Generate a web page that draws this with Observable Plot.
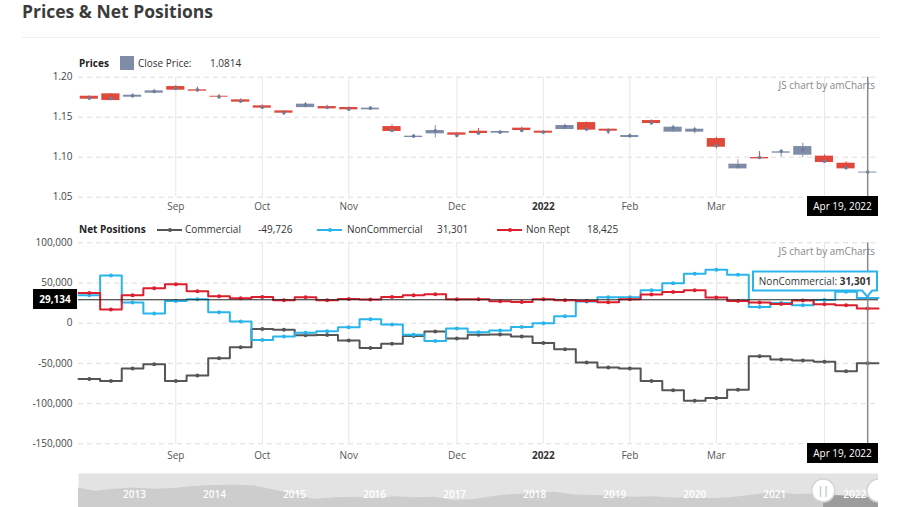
<!DOCTYPE html>
<html><head><meta charset="utf-8">
<script src="https://cdn.jsdelivr.net/npm/d3@7"></script>
<script src="https://cdn.jsdelivr.net/npm/@observablehq/plot@0.6"></script>
<style>
body{margin:0;background:#fff;font-family:"Open Sans",sans-serif;}
#root{position:relative;width:900px;height:507px;overflow:hidden;background:#fff;}
.abs{position:absolute;white-space:nowrap;line-height:1;}
svg{display:block;}
</style></head><body><div id="root"></div>
<script>
// ---------- data ----------
const dates = ["2021-08-10","2021-08-17","2021-08-24","2021-08-31","2021-09-07","2021-09-14","2021-09-21","2021-09-28",
  "2021-10-05","2021-10-12","2021-10-19","2021-10-26","2021-11-02","2021-11-09","2021-11-16","2021-11-23","2021-11-30",
  "2021-12-07","2021-12-14","2021-12-21","2021-12-28","2022-01-04","2022-01-11","2022-01-18","2022-01-25",
  "2022-02-01","2022-02-08","2022-02-15","2022-02-22","2022-03-01","2022-03-08","2022-03-15","2022-03-22","2022-03-29",
  "2022-04-05","2022-04-12","2022-04-19"];
const openP  = [1.1762,1.1792,1.1750,1.1800,1.1883,1.1842,1.1762,1.1717,1.1642,1.1579,1.1620,1.1633,1.1621,1.1592,1.1383,1.1246,1.1292,
  1.1304,1.1325,1.1300,1.1363,1.1325,1.1346,1.1433,1.1350,1.1246,1.1458,1.1313,1.1313,1.1233,1.0854,1.0996,1.1050,1.1025,1.1013,1.0925,1.0802];
const closeP = [1.1725,1.1708,1.1775,1.1829,1.1838,1.1825,1.1750,1.1688,1.1613,1.1550,1.1663,1.1604,1.1592,1.1613,1.1321,1.1263,1.1333,
  1.1275,1.1296,1.1321,1.1333,1.1300,1.1396,1.1338,1.1325,1.1271,1.1421,1.1375,1.1350,1.1125,1.0913,1.0979,1.1067,1.1133,1.0933,1.0854,1.0814];
const highP  = [1.1768,1.1795,1.1792,1.1850,1.1896,1.1875,1.1783,1.1729,1.1654,1.1583,1.1683,1.1650,1.1630,1.1633,1.1404,1.1283,1.1396,
  1.1308,1.1358,1.1327,1.1375,1.1330,1.1413,1.1442,1.1355,1.1292,1.1465,1.1400,1.1375,1.1250,1.0967,1.1071,1.1092,1.1175,1.1029,1.0942,1.0840];
const lowP   = [1.1720,1.1705,1.1742,1.1797,1.1835,1.1808,1.1729,1.1679,1.1604,1.1538,1.1615,1.1600,1.1585,1.1588,1.1315,1.1240,1.1242,
  1.1254,1.1283,1.1295,1.1313,1.1290,1.1342,1.1330,1.1283,1.1240,1.1415,1.1308,1.1292,1.1104,1.0850,1.0979,1.1000,1.1000,1.0925,1.0850,1.0792];
const dotP   = [1.1738,1.1733,1.1767,1.1821,1.1858,1.1842,1.1754,1.1700,1.1625,1.1554,1.1654,1.1621,1.1600,1.1613,1.1333,1.1263,1.1329,
  1.1271,1.1300,1.1313,1.1333,1.1313,1.1383,1.1350,1.1329,1.1267,1.1429,1.1367,1.1342,1.1146,1.0888,1.0996,1.1075,1.1092,1.0950,1.0867,1.0814];
const commercial = [-69300,-71800,-56400,-51000,-71800,-65100,-43500,-29900,-7100,-8300,-15000,-14800,-21600,-30700,-25500,-15800,-10200,
  -19100,-14500,-14100,-16600,-24500,-32300,-49000,-55200,-56400,-71800,-83500,-96300,-93000,-82700,-41000,-45300,-46500,-48100,-59700,-49726];
const nonCommercial = [34800,59200,25600,12000,27700,29800,13700,2000,-21000,-16600,-12000,-10000,-5000,5000,-1700,-14500,-22000,
  -6700,-11200,-9200,-4600,0,8700,26900,32300,32300,41000,49700,61500,66500,60300,20000,25200,22200,29000,39200,31301];
const nonReportable = [37600,16900,34800,43500,48500,39800,33600,31100,32700,28600,32300,28600,30200,29400,32700,34800,36000,
  29800,29800,27400,26500,29800,28600,27700,26100,29800,35600,38700,41000,32000,27500,25600,24000,28300,23600,22200,18425];
const priceTicks = [1.05,1.10,1.15,1.20];
const netTicks = [-150000,-100000,-50000,0,50000,100000];
const cursorValue = 29134;
const historyT = [2012.3,2012.5,2012.75,2013.0,2013.25,2013.5,2013.75,2014.0,2014.25,2014.5,2014.75,2015.0,2015.25,2015.5,2015.75,
  2016.0,2016.25,2016.5,2016.75,2017.0,2017.25,2017.5,2017.75,2018.0,2018.25,2018.5,2018.75,2019.0,2019.25,2019.5,2019.75,
  2020.0,2020.25,2020.5,2020.75,2021.0,2021.25,2021.5,2021.61,2021.75,2022.0,2022.15,2022.296];
const historyV = [1.32,1.25,1.29,1.32,1.29,1.31,1.35,1.37,1.38,1.36,1.27,1.18,1.07,1.11,1.12,
  1.09,1.13,1.11,1.12,1.05,1.07,1.14,1.18,1.20,1.23,1.17,1.16,1.14,1.12,1.13,1.10,
  1.12,1.09,1.12,1.17,1.22,1.18,1.19,1.175,1.16,1.13,1.12,1.08];
const yearTicks = [2013,2014,2015,2016,2017,2018,2019,2020,2021,2022];

// ---------- layout / style ----------
const W = 900, L = 78, R = 22;
const RED = "#e0483b", BLUE = "#7f8ca8", C_COM = "#555555", C_NC = "#29b5ec", C_NR = "#dc1f2e";
const FONT = '"Open Sans", sans-serif';
const root = d3.select("#root");
const monthNames = ["Jan","Feb","Mar","Apr","May","Jun","Jul","Aug","Sep","Oct","Nov","Dec"];
const parsed = dates.map(d => new Date(d + "T00:00:00Z"));
const monthIdx = parsed.map((d,i) => (i > 0 && d.getUTCMonth() !== parsed[i-1].getUTCMonth()) ? i : -1).filter(i => i >= 0);
const tickLabel = i => parsed[i].getUTCMonth() === 0 ? String(parsed[i].getUTCFullYear()) : monthNames[parsed[i].getUTCMonth()];
const xDomain = [-0.5, dates.length - 0.5];
const last = dates.length - 1;
const boxW = 71, boxLeft = W - R - boxW;
// month labels that would sit under the cursor date box are hidden, as in the reference
const pxOf = i => L + (i - xDomain[0]) * (W - L - R) / (xDomain[1] - xDomain[0]);
const labelIdx = monthIdx.filter(i => pxOf(i) + 12 < boxLeft);
const yearIdx = labelIdx.filter(i => parsed[i].getUTCMonth() === 0);
const monIdx = labelIdx.filter(i => parsed[i].getUTCMonth() !== 0);
const fmt = v => Math.round(v).toLocaleString("en-US");
const baseStyle = {fontFamily: FONT, fontSize: "10px", color: "#444", background: "transparent", overflow: "visible"};

// ---------- title ----------
root.append("div").attr("class","abs")
  .style("left","22px").style("top","3px").style("font-size","17.5px").style("font-weight","700").style("color","#3c3c3c")
  .text("Prices & Net Positions");
root.append("div").attr("class","abs")
  .style("left","22px").style("top","37px").style("width","858px").style("height","1px").style("background","#eeeeee");

// ---------- price panel ----------
const priceTop = 60, priceH = 160, pMT = 16.7, pMB = 23.3;
const candles = dates.map((d,i) => ({i, open: openP[i], close: closeP[i], high: highP[i], low: lowP[i], mid: dotP[i],
  color: closeP[i] >= openP[i] ? BLUE : RED}));
const pricePlot = Plot.plot({
  width: W, height: priceH, marginLeft: L, marginRight: R, marginTop: pMT, marginBottom: pMB,
  style: baseStyle,
  x: {domain: xDomain}, y: {domain: [1.05, 1.20]},
  marks: [
    Plot.ruleY(priceTicks, {stroke: "#dddddd", strokeDasharray: "5,4"}),
    Plot.ruleX(monthIdx, {stroke: "#e6e6e6"}),
    Plot.axisY(priceTicks, {tickSize: 0, tickPadding: 6, tickFormat: d => d.toFixed(2), label: null, fill: "#444"}),
    Plot.axisX(monIdx, {tickSize: 0, tickPadding: 6, tickFormat: tickLabel, label: null, fill: "#555"}),
    Plot.axisX(yearIdx, {tickSize: 0, tickPadding: 6, tickFormat: tickLabel, label: null, fontWeight: "bold", fill: "#333"}),
    Plot.ruleX(candles, {x: "i", y1: "low", y2: "high", stroke: "color", strokeWidth: 1}),
    Plot.rect(candles, {x1: d => d.i - 0.42, x2: d => d.i + 0.42, y1: "open", y2: "close", fill: "color"}),
    Plot.dot(candles, {x: "i", y: "mid", r: 1.8, fill: "#6d7d9c"}),
    Plot.ruleX([last], {stroke: "#8a8a8a", strokeWidth: 1.5})
  ]
});
root.append("div").attr("class","abs").style("left","0px").style("top", priceTop + "px").node().appendChild(pricePlot);

// price legend
root.append("div").attr("class","abs").style("left","79px").style("top","58px").style("font-size","10px").style("font-weight","700").style("color","#222").text("Prices");
root.append("div").attr("class","abs").style("left","120px").style("top","56px").style("width","14px").style("height","14px").style("background",BLUE);
root.append("div").attr("class","abs").style("left","138px").style("top","58px").style("font-size","10px").style("color","#333").text("Close Price:");
root.append("div").attr("class","abs").style("left","210px").style("top","58px").style("font-size","10px").style("color","#333").text(closeP[last].toFixed(4));

// ---------- net positions panel ----------
const netTop = 236, netH = 230, nMT = 6.3, nMB = 22.7;
const steps = vals => vals.flatMap((v,i) => [{x: i - 0.5, y: v}, {x: i + 0.5, y: v}]);
const pts = vals => vals.map((v,i) => ({i, v}));
const netPlot = Plot.plot({
  width: W, height: netH, marginLeft: L, marginRight: R, marginTop: nMT, marginBottom: nMB,
  style: baseStyle,
  x: {domain: xDomain}, y: {domain: [-150000, 100000]},
  marks: [
    Plot.ruleY(netTicks, {stroke: "#dddddd", strokeDasharray: "5,4"}),
    Plot.ruleX(monthIdx, {stroke: "#e6e6e6"}),
    Plot.axisY(netTicks, {tickSize: 0, tickPadding: 6, tickFormat: fmt, label: null, fill: "#444"}),
    Plot.axisX(monIdx, {tickSize: 0, tickPadding: 8, tickFormat: tickLabel, label: null, fill: "#555"}),
    Plot.axisX(yearIdx, {tickSize: 0, tickPadding: 8, tickFormat: tickLabel, label: null, fontWeight: "bold", fill: "#333"}),
    Plot.line(steps(commercial), {x: "x", y: "y", stroke: C_COM, strokeWidth: 2}),
    Plot.dot(pts(commercial), {x: "i", y: "v", r: 2, fill: C_COM}),
    Plot.line(steps(nonCommercial), {x: "x", y: "y", stroke: C_NC, strokeWidth: 2}),
    Plot.dot(pts(nonCommercial), {x: "i", y: "v", r: 2, fill: C_NC}),
    Plot.line(steps(nonReportable), {x: "x", y: "y", stroke: C_NR, strokeWidth: 2}),
    Plot.dot(pts(nonReportable), {x: "i", y: "v", r: 2, fill: C_NR}),
    Plot.ruleY([cursorValue], {stroke: "#222", strokeWidth: 1}),
    Plot.ruleX([last], {stroke: "#8a8a8a", strokeWidth: 1.5})
  ]
});
root.append("div").attr("class","abs").style("left","0px").style("top", netTop + "px").node().appendChild(netPlot);

// net legend
const legY = 224;
root.append("div").attr("class","abs").style("left","79px").style("top", legY + "px").style("font-size","10px").style("font-weight","700").style("color","#222").text("Net Positions");
const legendItems = [
  {name: "Commercial", color: C_COM, value: commercial[last], x0: 157, tx: 185, vx: 258},
  {name: "NonCommercial", color: C_NC, value: nonCommercial[last], x0: 317, tx: 347, vx: 437},
  {name: "Non Rept", color: C_NR, value: nonReportable[last], x0: 497, tx: 526, vx: 587}
];
legendItems.forEach(it => {
  root.append("div").attr("class","abs").style("left", it.x0 + "px").style("top", (legY + 5) + "px")
    .style("width","25px").style("height","2px").style("background", it.color);
  root.append("div").attr("class","abs").style("left", (it.x0 + 10.5) + "px").style("top", (legY + 4) + "px")
    .style("width","4px").style("height","4px").style("border-radius","2px").style("background", it.color);
  root.append("div").attr("class","abs").style("left", it.tx + "px").style("top", legY + "px").style("font-size","10px").style("color","#333").text(it.name);
  root.append("div").attr("class","abs").style("left", it.vx + "px").style("top", legY + "px").style("font-size","10px").style("color","#333").text(fmt(it.value));
});

// watermark texts
[[80], [246]].forEach(([t]) => {
  root.append("div").attr("class","abs").style("right","25px").style("top", t + "px").style("font-size","10px").style("color","#888").text("JS chart by amCharts");
});

// ---------- cursor overlays ----------
const xs = netPlot.scale("x"), ysN = netPlot.scale("y");
const xLast = xs.apply(last);
const dateLabel = d3.utcFormat("%b %-d, %Y")(parsed[last]);
[[priceTop + priceH - pMB - 1], [netTop + netH - nMB]].forEach(([t]) => {
  root.append("div").attr("class","abs").style("left", boxLeft + "px").style("top", t + "px")
    .style("width", boxW + "px").style("height","20px").style("background","#000").style("color","#fff")
    .style("font-size","10px").style("display","flex").style("align-items","center").style("justify-content","center")
    .text(dateLabel);
});
const yCur = netTop + ysN.apply(cursorValue);
root.append("div").attr("class","abs").style("left","33px").style("top", (yCur - 10) + "px")
  .style("width","44px").style("height","20px").style("background","#000").style("color","#fff")
  .style("font-size","10px").style("font-weight","700").style("display","flex").style("align-items","center").style("justify-content","center")
  .text(fmt(cursorValue));

// tooltip
const tipX = xLast, tipY = netTop + ysN.apply(nonCommercial[last]) - 1;
const bx0 = 753, bx1 = W - R - 1, by0 = tipY - 25, by1 = tipY - 6;
const ov = root.append("svg").attr("width", W).attr("height", 507).style("position","absolute").style("left","0px").style("top","0px");
ov.append("path")
  .attr("d", `M${bx0},${by0}H${bx1}V${by1}H${tipX+5}L${tipX},${tipY}L${tipX-5},${by1}H${bx0}Z`)
  .attr("fill","#fff").attr("stroke", C_NC).attr("stroke-width", 2);
const tt = ov.append("text").attr("x", (bx0 + bx1) / 2).attr("y", (by0 + by1) / 2).attr("dy","0.35em")
  .attr("text-anchor","middle").attr("font-family", FONT).attr("font-size", 10).attr("fill","#333");
tt.append("tspan").text("NonCommercial: ");
tt.append("tspan").attr("font-weight","700").text(fmt(nonCommercial[last]));

// ---------- scrollbar ----------
const history = historyT.map((t,i) => ({t, v: historyV[i]}));
const p0 = parsed[0], yr0 = Date.UTC(p0.getUTCFullYear(), 0, 1);
const selStart = p0.getUTCFullYear() + (p0 - yr0) / (365 * 864e5);
const selEnd = historyT[historyT.length - 1];
const scroll = Plot.plot({
  width: W - L - R, height: 34, margin: 0,
  style: {fontFamily: FONT, background: "transparent"},
  x: {domain: [historyT[0], selEnd], axis: null}, y: {domain: [0.9, 1.63], axis: null},
  marks: [
    Plot.frame({fill: "#e3e3e3", stroke: "none"}),
    Plot.areaY(history, {x: "t", y1: 0.9, y2: "v", fill: "#cdcdcd"}),
    Plot.areaY(history.filter(d => d.t >= selStart), {x: "t", y1: 0.9, y2: "v", fill: "#9c9c9c"}),
    Plot.text(yearTicks, {x: d => d, text: d => String(d), frameAnchor: "bottom", dy: -10, fill: "#fff", fontSize: 10, fontWeight: 600}),
    Plot.dot([selStart, selEnd], {x: d => d, r: 11.5, fill: "#fff", stroke: "#d4d4d4"}),
    Plot.text([selStart], {x: d => d, text: () => "||", fill: "#a0a0a0", fontSize: 10})
  ]
});
root.append("div").attr("class","abs").style("left", L + "px").style("top","473px").node().appendChild(scroll);
</script>
</body></html>
